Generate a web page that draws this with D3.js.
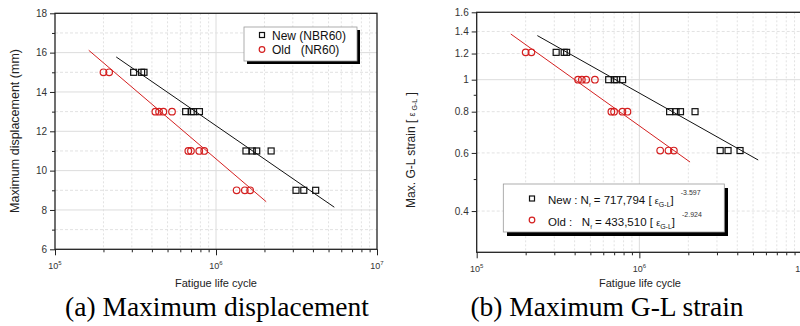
<!DOCTYPE html>
<html><head><meta charset="utf-8">
<script src="https://cdn.jsdelivr.net/npm/d3@7"></script>
<style>
body{margin:0;background:#fff;}
svg{display:block;font-family:Arial,"Liberation Sans",sans-serif;}
</style></head><body>
<svg id="c" width="800" height="326"></svg>
<script>
// ---- data ----
const dispLevels = [15, 13, 11, 9];          // mm
const strainLevels = [1.21, 1.0, 0.8, 0.61]; // G-L strain
const newCycles = [
  [308e3, 345e3, 357e3],
  [648e3, 701e3, 725e3, 789e3],
  [1.535e6, 1.68e6, 1.79e6, 2.2e6],
  [3.14e6, 3.51e6, 4.16e6]
];
const oldCycles = [
  [200e3, 217e3],
  [420e3, 443e3, 471e3, 533e3],
  [673e3, 699e3, 787e3, 845e3],
  [1.343e6, 1.51e6, 1.63e6]
];
const dispLineNew = [[240e3, 15.78], [5.43e6, 8.14]];
const dispLineOld = [[162e3, 16.12], [2.05e6, 8.42]];
const strainLineNew = [[236e3, 1.36], [5.38e6, 0.571]];
const strainLineOld = [[162e3, 1.375], [2.05e6, 0.563]];
const dispTicks = [6, 8, 10, 12, 14, 16, 18];
const dispMinor = [7, 9, 11, 13, 15, 17];
const strainTicks = [0.4, 0.6, 0.8, 1, 1.2, 1.4, 1.6];
const strainTickLabels = ["0.4", "0.6", "0.8", "1", "1.2", "1.4", "1.6"];
const strainMinor = [0.5, 0.7, 0.9];
const xMajor = [1e5, 1e6, 1e7];
const xMajorExp = ["5", "6", "7"];
const legendLeft = ["New (NBR60)", "Old   (NR60)"];
const fitNew = {label: "New : ", coef: "717,794", exp: "-3.597"};
const fitOld = {label: "Old :   ", coef: "433,510", exp: "-2.924"};
const captions = ["(a) Maximum displacement", "(b) Maximum G-L strain"];

const svg = d3.select("#c");
const RED = "#d42020";

function xMinorTicks() {
  const t = [];
  for (let e = 5; e < 7; e++) for (let k = 2; k <= 9; k++) t.push(k * Math.pow(10, e));
  return t;
}

function drawPanel(o) {
  const g = svg.append("g");
  const x = d3.scaleLog().domain([1e5, 1e7]).range([o.x0, o.x1]);
  const y = (o.ylog ? d3.scaleLog() : d3.scaleLinear()).domain(o.ydom).range([o.y1, o.y0]);
  const clipId = "clip" + o.id;
  svg.append("clipPath").attr("id", clipId).append("rect")
    .attr("x", o.x0).attr("y", o.y0).attr("width", o.x1 - o.x0).attr("height", o.y1 - o.y0);

  const grid = g.append("g");
  xMinorTicks().forEach(v => grid.append("line")
    .attr("x1", x(v)).attr("x2", x(v)).attr("y1", o.y0).attr("y2", o.y1)
    .attr("stroke", "#e2e2e2").attr("stroke-dasharray", "2,2").attr("stroke-width", 1));
  grid.append("line").attr("x1", x(1e6)).attr("x2", x(1e6)).attr("y1", o.y0).attr("y2", o.y1)
    .attr("stroke", "#dcdcdc").attr("stroke-width", 1);
  o.gridDashed.forEach(v => grid.append("line")
    .attr("x1", o.x0).attr("x2", o.x1).attr("y1", y(v)).attr("y2", y(v))
    .attr("stroke", "#e2e2e2").attr("stroke-dasharray", "3,2").attr("stroke-width", 1));
  o.gridSolid.forEach(v => grid.append("line")
    .attr("x1", o.x0).attr("x2", o.x1).attr("y1", y(v)).attr("y2", y(v))
    .attr("stroke", "#dcdcdc").attr("stroke-width", 1));

  const xAxis = d3.axisBottom(x).tickValues(xMajor).tickSize(6).tickFormat("");
  const xAx = g.append("g").attr("transform", `translate(0,${o.y1})`).call(xAxis);
  xAx.select(".domain").remove();
  xAx.selectAll("line").attr("stroke", "#222");
  const xMin = d3.axisBottom(x).tickValues(xMinorTicks()).tickSize(3).tickFormat("");
  const xm = g.append("g").attr("transform", `translate(0,${o.y1})`).call(xMin);
  xm.select(".domain").remove();
  xm.selectAll("line").attr("stroke", "#222");
  xMajor.forEach((v, i) => {
    const t = g.append("text").attr("x", x(v)).attr("y", o.y1 + 20)
      .attr("text-anchor", "middle").attr("font-size", 9).attr("fill", "#333");
    t.append("tspan").text("10");
    t.append("tspan").attr("font-size", 6).attr("dy", -4).text(xMajorExp[i]);
  });

  const yAxis = d3.axisLeft(y).tickValues(o.yticks).tickSize(5)
    .tickFormat((d, i) => o.ylabels[i]);
  const yAx = g.append("g").attr("transform", `translate(${o.x0},0)`).call(yAxis);
  yAx.select(".domain").remove();
  yAx.selectAll("line").attr("stroke", "#222");
  yAx.selectAll("text").attr("font-size", 10).attr("fill", "#333")
    .attr("font-family", "Arial, 'Liberation Sans', sans-serif").attr("x", -8);
  const yMin = d3.axisLeft(y).tickValues(o.yminor).tickSize(3).tickFormat("");
  const ym = g.append("g").attr("transform", `translate(${o.x0},0)`).call(yMin);
  ym.select(".domain").remove();
  ym.selectAll("line").attr("stroke", "#222");

  g.append("rect").attr("x", o.x0).attr("y", o.y0).attr("width", o.x1 - o.x0).attr("height", o.y1 - o.y0)
    .attr("fill", "none").attr("stroke", "#222").attr("stroke-width", 1.3);

  const line = d3.line().x(d => x(d[0])).y(d => y(d[1]));
  const marks = g.append("g").attr("clip-path", `url(#${clipId})`);
  marks.append("path").attr("d", line(o.lineNew)).attr("stroke", "#111").attr("stroke-width", 1).attr("fill", "none");
  marks.append("path").attr("d", line(o.lineOld)).attr("stroke", RED).attr("stroke-width", 1).attr("fill", "none");

  const ptsNew = [], ptsOld = [];
  o.levels.forEach((lv, i) => {
    newCycles[i].forEach(n => ptsNew.push([n, lv]));
    oldCycles[i].forEach(n => ptsOld.push([n, lv]));
  });
  marks.selectAll(".sq").data(ptsNew).join("rect")
    .attr("x", d => x(d[0]) - 3).attr("y", d => y(d[1]) - 3).attr("width", 6).attr("height", 6)
    .attr("fill", "none").attr("stroke", "#111").attr("stroke-width", 1.2);
  marks.selectAll(".ci").data(ptsOld).join("circle")
    .attr("cx", d => x(d[0])).attr("cy", d => y(d[1])).attr("r", 3.3)
    .attr("fill", "none").attr("stroke", RED).attr("stroke-width", 1.2);

  g.append("text").attr("x", o.xTitleX).attr("y", 287)
    .attr("text-anchor", "middle").attr("font-size", 11).attr("fill", "#222").text("Fatigue life cycle");
  return {g, x, y};
}

const L = drawPanel({
  id: "L", x0: 55, x1: 377, y0: 13.3, y1: 249.3, ylog: false, ydom: [6, 18],
  yticks: dispTicks, ylabels: dispTicks.map(String), yminor: dispMinor,
  gridSolid: [8, 10, 12, 14, 16], gridDashed: dispMinor,
  lineNew: dispLineNew, lineOld: dispLineOld, levels: dispLevels, xTitleX: 216
});
L.g.append("text").attr("transform", "translate(19,131) rotate(-90)")
  .attr("text-anchor", "middle").attr("font-size", 12.5).attr("fill", "#222")
  .text("Maximum displacement (mm)");
{
  const lg = L.g.append("g");
  lg.append("rect").attr("x", 247).attr("y", 30).attr("width", 113).attr("height", 34).attr("fill", "#000");
  lg.append("rect").attr("x", 244).attr("y", 27).attr("width", 113).attr("height", 34)
    .attr("fill", "#fff").attr("stroke", "#999").attr("stroke-width", 0.8);
  lg.append("rect").attr("x", 259.5).attr("y", 32.5).attr("width", 5).attr("height", 5)
    .attr("fill", "none").attr("stroke", "#111").attr("stroke-width", 1.2);
  lg.append("circle").attr("cx", 262).attr("cy", 49.5).attr("r", 2.8)
    .attr("fill", "none").attr("stroke", RED).attr("stroke-width", 1.2);
  lg.append("text").attr("x", 272).attr("y", 40).attr("font-size", 12).attr("fill", "#111")
    .attr("xml:space", "preserve").text(legendLeft[0]);
  lg.append("text").attr("x", 272).attr("y", 54).attr("font-size", 12).attr("fill", "#111")
    .attr("xml:space", "preserve").text(legendLeft[1]);
}

const R = drawPanel({
  id: "R", x0: 476.7, x1: 802, y0: 12.3, y1: 252.3, ylog: true, ydom: [0.3, 1.6],
  yticks: strainTicks, ylabels: strainTickLabels, yminor: strainMinor,
  gridSolid: [1], gridDashed: [0.4, 0.6, 0.8, 1.2, 1.4],
  lineNew: strainLineNew, lineOld: strainLineOld, levels: strainLevels, xTitleX: 640
});
{
  const t = R.g.append("text").attr("transform", "translate(415,150) rotate(-90)")
    .attr("text-anchor", "middle").attr("font-size", 12).attr("fill", "#222").attr("xml:space", "preserve");
  t.append("tspan").text("Max. G-L strain [ ");
  t.append("tspan").attr("font-size", 9).text("ε");
  t.append("tspan").attr("font-size", 7).attr("dy", 2).text(" G-L");
  t.append("tspan").attr("dy", -2).text(" ]");
}
{
  const lg = R.g.append("g");
  lg.append("rect").attr("x", 507).attr("y", 188).attr("width", 221).attr("height", 48).attr("fill", "#000");
  lg.append("rect").attr("x", 503.3).attr("y", 184).attr("width", 221).attr("height", 48)
    .attr("fill", "#fff").attr("stroke", "#999").attr("stroke-width", 0.8);
  lg.append("rect").attr("x", 529.5).attr("y", 196).attr("width", 5).attr("height", 5)
    .attr("fill", "none").attr("stroke", "#111").attr("stroke-width", 1.2);
  lg.append("circle").attr("cx", 532).attr("cy", 220).attr("r", 2.8)
    .attr("fill", "none").attr("stroke", RED).attr("stroke-width", 1.2);
  function fitText(yb, fit) {
    const t = lg.append("text").attr("x", 548).attr("y", yb).attr("font-size", 11.5).attr("fill", "#111")
      .attr("xml:space", "preserve");
    t.append("tspan").text(fit.label + "N");
    t.append("tspan").attr("font-size", 6).attr("dy", 3).text("f");
    t.append("tspan").attr("dy", -3).text(" = " + fit.coef + " [ ");
    t.append("tspan").attr("font-size", 9).text("ε");
    t.append("tspan").attr("font-size", 7).attr("dy", 3).text("G-L");
    t.append("tspan").attr("dy", -3).text("]");
    t.append("tspan").attr("font-size", 7).attr("fill", "#333").attr("dx", 7).attr("dy", -9).text(fit.exp);
  }
  fitText(204, fitNew);
  fitText(226, fitOld);
}

[[captions[0], 217], [captions[1], 607]].forEach(([txt, cx]) => {
  svg.append("text").attr("x", cx).attr("y", 316).attr("text-anchor", "middle")
    .attr("font-family", "'Liberation Serif','Times New Roman',serif").attr("font-size", 27.5).attr("fill", "#000")
    .text(txt);
});
</script>
</body></html>
